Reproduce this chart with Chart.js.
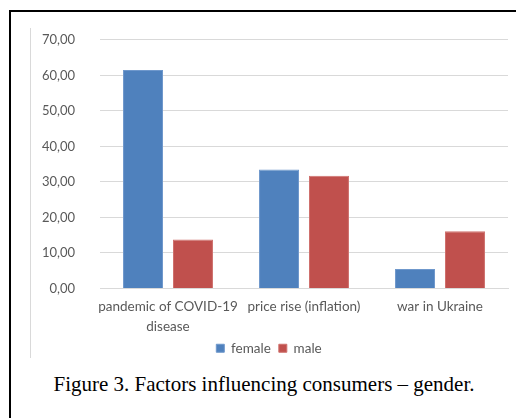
<!DOCTYPE html>
<html lang="en">
<head>
    <meta charset="UTF-8">
    <script src="https://cdn.jsdelivr.net/npm/chart.js"></script>
    <title>Factors influencing consumers - gender</title>
    <style>
        body {
            margin: 0;
            background: #fff;
            width: 516px;
            height: 418px;
            overflow: hidden;
            position: relative;
        }
        .frame {
            position: absolute;
            left: 9px;
            top: 10px;
            width: 520px;
            height: 420px;
            border-left: 2px solid #000;
            border-top: 2px solid #000;
        }
        .chart-edge {
            position: absolute;
            left: 30px;
            top: 28px;
            width: 1px;
            height: 330px;
            background: #d9d9d9;
        }
        .chart-box {
            position: absolute;
            left: 30px;
            top: 7px;
            width: 486px;
            height: 358px;
        }
        .caption {
            position: absolute;
            left: 0;
            width: 528px;
            top: 372px;
            text-align: center;
            font-family: "Liberation Serif", "Times New Roman", serif;
            font-size: 21px;
            color: #000;
        }
    </style>
</head>
<body>
    <div class="frame"></div>
    <div class="chart-edge"></div>
    <div class="chart-box">
        <canvas id="genderChart" width="486" height="358"></canvas>
    </div>
    <div class="caption">Figure 3. Factors influencing consumers &ndash; gender.</div>

    <script>
        const factors = [['pandemic of COVID-19', 'disease'], 'price rise (inflation)', 'war in Ukraine'];
        const female = [61.5, 33.5, 5.5];
        const male = [13.8, 31.7, 16.1];
        const yTicks = [0, 10, 20, 30, 40, 50, 60, 70];

        const fontFamily = 'Lato, "Open Sans", sans-serif';

        const ctx = document.getElementById('genderChart').getContext('2d');
        new Chart(ctx, {
            type: 'bar',
            data: {
                labels: factors,
                datasets: [{
                    label: 'female',
                    data: female,
                    backgroundColor: '#4f81bd',
                    borderColor: '#6f98cc',
                    borderWidth: 1
                }, {
                    label: 'male',
                    data: male,
                    backgroundColor: '#c0504d',
                    borderColor: '#cf716e',
                    borderWidth: 1
                }]
            },
            options: {
                animation: false,
                responsive: false,
                layout: {
                    padding: { left: 0, right: 8, top: 4, bottom: 0 }
                },
                datasets: {
                    bar: { categoryPercentage: 0.735, barPercentage: 0.8 }
                },
                plugins: {
                    legend: {
                        position: 'bottom',
                        labels: {
                            boxWidth: 8,
                            boxHeight: 8,
                            padding: 8,
                            color: '#595959',
                            font: { family: fontFamily, size: 13.5 }
                        }
                    },
                    tooltip: { enabled: false }
                },
                scales: {
                    x: {
                        grid: { display: false, drawTicks: false },
                        border: { color: '#d9d9d9', width: 1 },
                        ticks: {
                            color: '#595959',
                            font: { family: fontFamily, size: 13.5, lineHeight: 1.5 },
                            padding: 8,
                            maxRotation: 0,
                            autoSkip: false
                        },
                        afterFit(scale) { scale.height = 45; }
                    },
                    y: {
                        min: yTicks[0],
                        max: yTicks[yTicks.length - 1],
                        afterBuildTicks(scale) {
                            scale.ticks = yTicks.map(v => ({ value: v }));
                        },
                        grid: { color: '#d9d9d9', drawTicks: false },
                        border: { display: false },
                        ticks: {
                            color: '#595959',
                            font: { family: fontFamily, size: 13 },
                            padding: 25,
                            callback: v => v.toFixed(2).replace('.', ',')
                        },
                        afterFit(scale) { scale.width = 70; }
                    }
                }
            }
        });
    </script>
</body>
</html>
